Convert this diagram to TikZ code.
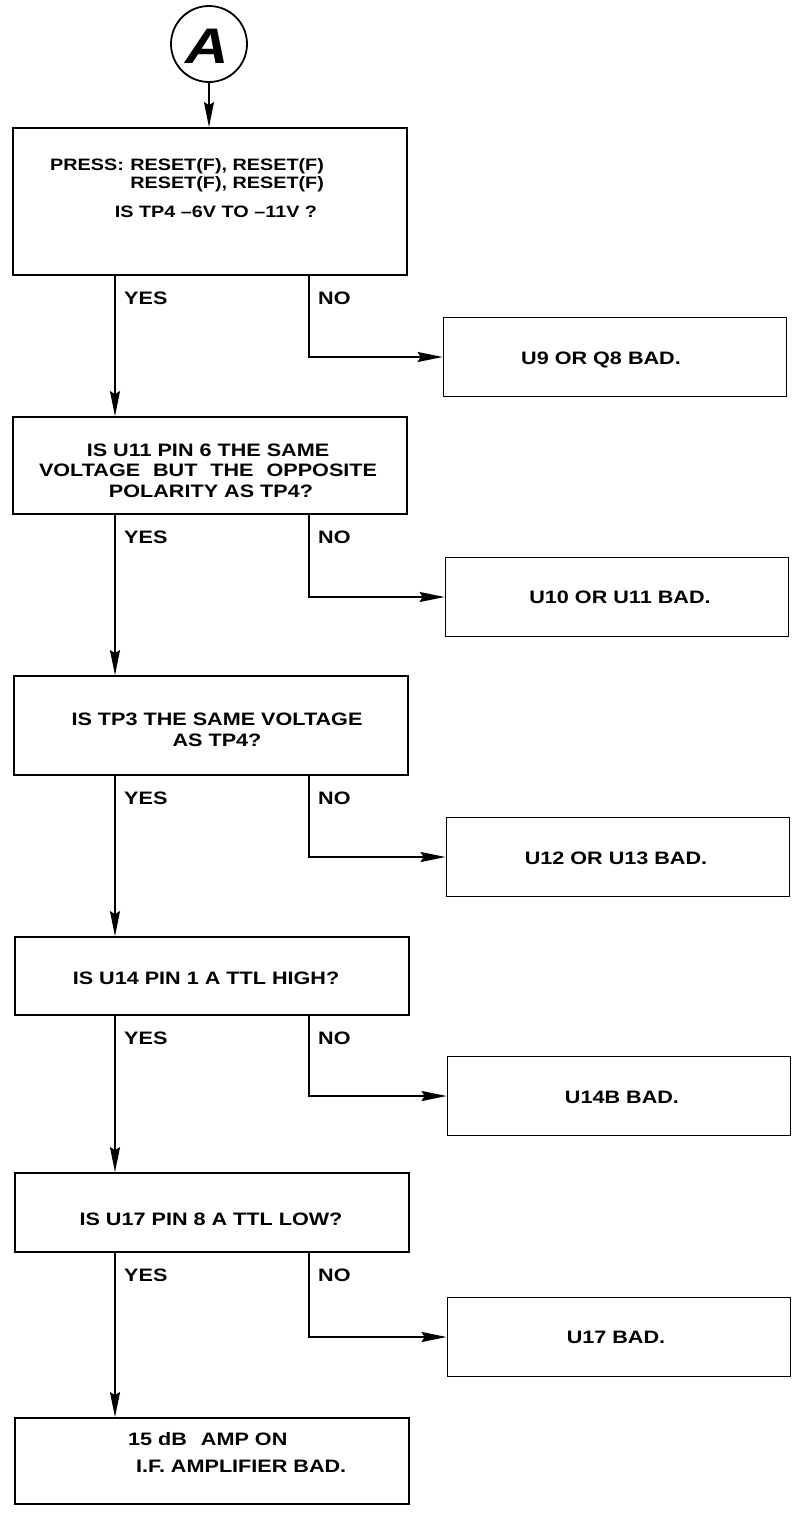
\documentclass[tikz,border=0pt]{standalone}
\usepackage{fontspec}
\newfontfamily\lab{Liberation Sans}[FakeStretch=1.2]
\usetikzlibrary{arrows.meta}
\tikzset{
  box/.style={draw, line width=1.8pt, rectangle, inner sep=0pt},
  mainbox/.style={box, minimum width=394pt},
  failbox/.style={box, minimum width=343pt, minimum height=79pt},
  txt/.style={font=\lab\bfseries\fontsize{18}{21}\selectfont, inner sep=0pt, anchor=base},
  stxt/.style={txt, font=\lab\bfseries\fontsize{16.5}{20}\selectfont},
  conn/.style={line width=1.7pt},
  arr/.style={conn, -{Stealth[length=25pt,width=10pt,inset=3pt]}},
}
\begin{document}
\begin{tikzpicture}[x=1pt,y=-1pt]
\path[fill=white, use as bounding box] (0,0) rectangle (793,1521);

% connector columns
\coordinate (Y) at (115,0);
\coordinate (N) at (309,0);

% start circle
\node[draw, circle, line width=1.8pt, minimum size=76pt, inner sep=0pt] (cA) at (209,44) {};
\node[font=\lab\bfseries\itshape\fontsize{50}{50}\selectfont, inner sep=0pt, anchor=base] (Atxt) at (207,63) {A};

% main boxes
\node[mainbox, minimum height=147pt] (b1) at (210,201.5) {};
\node[mainbox, minimum height=97pt]  (b2) at (210,465.5) {};
\node[mainbox, minimum height=99pt]  (b3) at (211,725.5) {};
\node[mainbox, minimum height=78pt]  (b4) at (212,976) {};
\node[mainbox, minimum height=79pt]  (b5) at (212,1212.5) {};
\node[mainbox, minimum height=86pt]  (b6) at (212,1461) {};

% failure boxes
\node[failbox] (f1) at (615,357) {};
\node[failbox] (f2) at (617,597) {};
\node[failbox] (f3) at (618,857) {};
\node[failbox] (f4) at (619,1096) {};
\node[failbox] (f5) at (619,1337) {};

% texts in box 1
\node[stxt, anchor=base west] (t1a) at (50,170) {PRESS:};
\node[stxt, anchor=base west] (t1b) at ([xshift=6pt]t1a.base east) {RESET(F), RESET(F)};
\node[stxt, anchor=base west] (t1c) at ([yshift=-18pt]t1b.base west) {RESET(F), RESET(F)};
\node[stxt] (t1d) at (216,217) {IS TP4 –6V TO –11V ?};

% box 2
\node[txt] (t2a) at (208,456) {IS U11 PIN 6 THE SAME};
\node[txt] (t2b) at (208,476) {\makebox[338pt][s]{VOLTAGE BUT THE OPPOSITE}};
\node[txt] (t2c) at (211,497) {POLARITY AS TP4?};

% box 3
\node[txt] (t3a) at (217,725) {IS TP3 THE SAME VOLTAGE};
\node[txt] (t3b) at (217,746) {AS TP4?};

% box 4, 5
\node[txt] (t4) at (206,984) {IS U14 PIN 1 A TTL HIGH?};
\node[txt] (t5) at (211,1225) {IS U17 PIN 8 A TTL LOW?};

% box 6
\node[txt, anchor=base west] (t6a) at (128,1445) {15 dB\hspace{14pt}AMP ON};
\node[txt, anchor=base west] (t6b) at (136,1472) {I.F. AMPLIFIER BAD.};

% failure texts
\node[txt] (u1) at (601,364) {U9 OR Q8 BAD.};
\node[txt] (u2) at (620,603) {U10 OR U11 BAD.};
\node[txt] (u3) at (616,864) {U12 OR U13 BAD.};
\node[txt] (u4) at (622,1103) {U14B BAD.};
\node[txt] (u5) at (616,1343) {U17 BAD.};

% connectors
\draw[arr] (cA.south) -- (cA.south |- b1.north);
\foreach \a/\b/\f in {b1/b2/f1, b2/b3/f2, b3/b4/f3, b4/b5/f4, b5/b6/f5}{
  \draw[arr] (\a.south -| Y) -- (\b.north -| Y);
  \draw[arr] (\a.south -| N) |- (\f.west);
  \node[txt, anchor=base west] (yes\a) at ([xshift=9pt, yshift=-29pt]\a.south -| Y) {YES};
  \node[txt, anchor=base west] (no\a) at ([xshift=9pt, yshift=-29pt]\a.south -| N) {NO};
}
\end{tikzpicture}
\end{document}
